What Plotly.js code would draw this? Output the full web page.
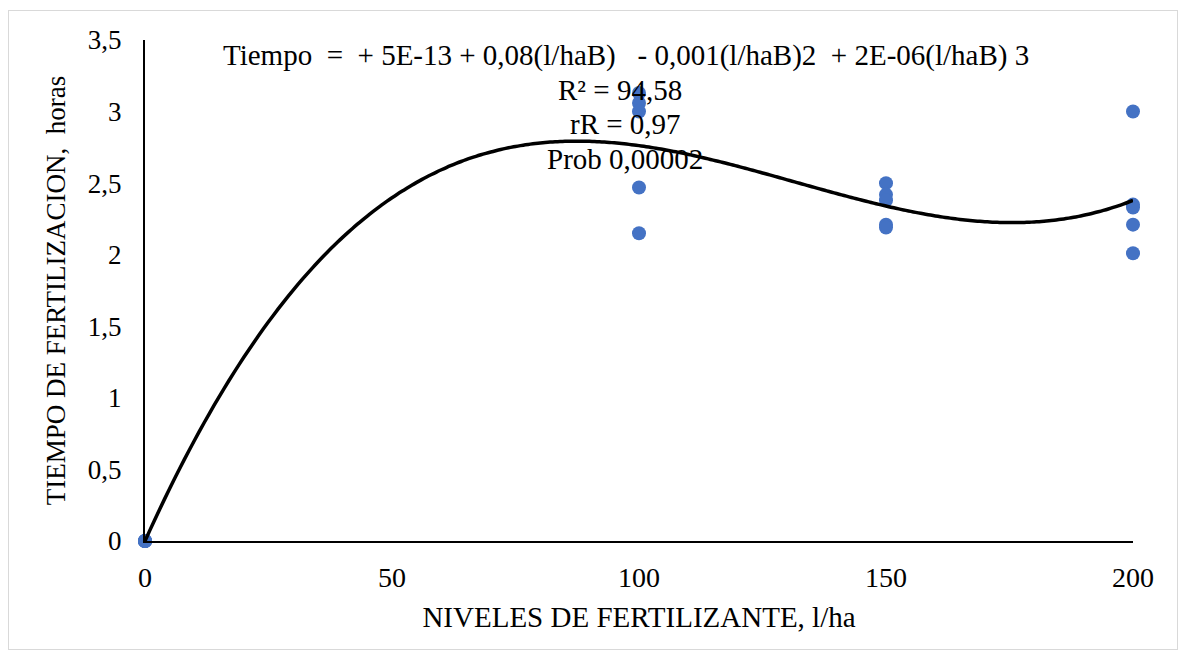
<!DOCTYPE html>
<html><head><meta charset="utf-8">
<script src="https://cdn.plot.ly/plotly-3.0.1.min.js"></script>
<style>body{margin:0;background:#fff}#wrap{position:relative;width:1186px;height:659px}#frame{position:absolute;left:8px;top:10px;width:1168px;height:638px;border:1px solid #d9d9d9;pointer-events:none}</style>
</head><body><div id="wrap"><div id="chart" style="width:1186px;height:659px"></div><div id="frame"></div></div>
<script>
const nivel = [0,0,0,0,0, 100,100,100,100,100, 150,150,150,150,150, 200,200,200,200,200];
const tiempo = [0,0,0,0,0, 3.13,3.06,3.0,2.47,2.15, 2.5,2.42,2.38,2.21,2.19, 3.0,2.35,2.33,2.21,2.01];
const xTicks = [0,50,100,150,200];
const yTicks = [0,0.5,1,1.5,2,2.5,3,3.5];
const eqLines = ["Tiempo  =  + 5E-13 + 0,08(l/haB)   - 0,001(l/haB)2  + 2E-06(l/haB) 3", "R² = 94,58", "rR = 0,97", "Prob 0,00002"];

// least-squares cubic trendline (as Excel's polynomial trendline)
function polyfit(xs, ys, deg){
  const n = deg+1;
  const A = Array.from({length:n},()=>Array(n+1).fill(0));
  for(let k=0;k<xs.length;k++){
    const s = xs[k]/100;
    for(let i=0;i<n;i++){
      for(let j=0;j<n;j++) A[i][j]+=Math.pow(s,i+j);
      A[i][n]+=ys[k]*Math.pow(s,i);
    }
  }
  for(let i=0;i<n;i++){
    let p=i; for(let r=i+1;r<n;r++) if(Math.abs(A[r][i])>Math.abs(A[p][i])) p=r;
    [A[i],A[p]]=[A[p],A[i]];
    for(let r=0;r<n;r++){ if(r===i) continue; const f=A[r][i]/A[i][i]; for(let c=i;c<=n;c++) A[r][c]-=f*A[i][c]; }
  }
  return A.map((row,i)=>row[n]/row[i]);
}
const coef = polyfit(nivel, tiempo, 3);
const tx=[], ty=[];
for(let x=0;x<=200;x+=1){ const s=x/100; tx.push(x); ty.push(coef.reduce((a,c,i)=>a+c*Math.pow(s,i),0)); }

const FAM = 'Liberation Serif';
const f = (size)=>({family:FAM, size:size, color:'#000'});
const data = [
  {x:nivel, y:tiempo, mode:'markers', type:'scatter', marker:{color:'#4472C4', size:14}, cliponaxis:false, hoverinfo:'skip'},
  {x:tx, y:ty, mode:'lines', type:'scatter', line:{color:'#000', width:3.5, shape:'spline'}, hoverinfo:'skip'}
];
const annX = [0.487, 0.481, 0.486, 0.486];
const annotations = eqLines.map((t,i)=>({
  text:t, xref:'paper', yref:'paper', x:annX[i], y:1 - (15+i*34.5)/501, xanchor:'center', yanchor:'middle',
  showarrow:false, font:f(29)
}));
const layout = {
  width:1186, height:659,
  margin:{l:145, r:53, t:40, b:118},
  separators:',.',
  showlegend:false,
  paper_bgcolor:'#fff', plot_bgcolor:'#fff',
  font:f(27),
  xaxis:{range:[0,200], tickvals:xTicks, showgrid:false, zeroline:false, showline:true, linecolor:'#000', linewidth:2,
    ticks:'', tickfont:f(28), ticklabelstandoff:10,
    title:{text:'NIVELES DE FERTILIZANTE, l/ha', font:f(29), standoff:15}},
  yaxis:{range:[0,3.5], tickvals:yTicks, showgrid:false, zeroline:false, showline:true, linecolor:'#000', linewidth:2,
    ticks:'', tickfont:f(27), ticklabelstandoff:16,
    title:{text:'TIEMPO DE FERTILIZACION,  horas', font:f(27), standoff:14}},
  annotations
};
Plotly.newPlot('chart', data, layout, {displayModeBar:false, staticPlot:true});
</script></body></html>
